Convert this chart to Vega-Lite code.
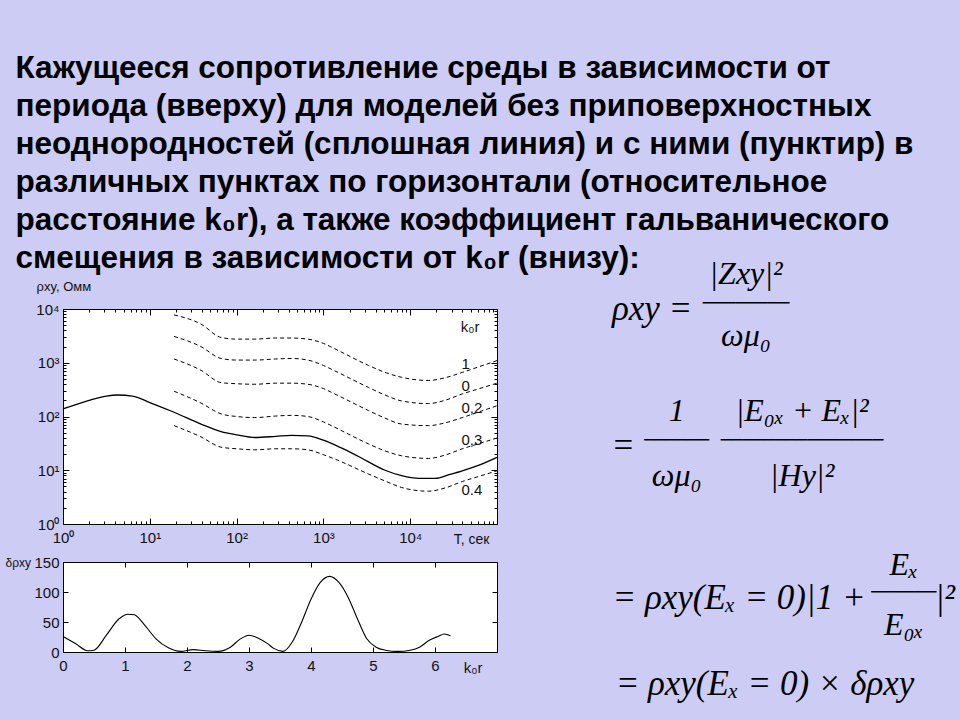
{
  "$schema": "https://vega.github.io/schema/vega-lite/v6.json",
  "background": "#ccccf5",
  "padding": {"left": 4, "top": 52, "right": 0, "bottom": 18},
  "title": {
    "text": [
      "Кажущееся сопротивление среды в зависимости от",
      "периода (вверху) для моделей без приповерхностных",
      "неоднородностей (сплошная линия) и с ними (пунктир) в",
      "различных пунктах по горизонтали (относительное",
      "расстояние k₀r), а также коэффициент гальванического",
      "смещения в зависимости от k₀r (внизу):"
    ],
    "anchor": "start",
    "font": "Liberation Sans",
    "fontSize": 31.5,
    "fontWeight": "bold",
    "lineHeight": 38,
    "color": "#000000",
    "dx": 11,
    "offset": -16
  },
  "datasets": {
    "homog": [
      {"T": 1, "rho": 138}, {"T": 2, "rho": 200}, {"T": 3.16, "rho": 240}, {"T": 4.27, "rho": 251},
      {"T": 6.31, "rho": 240}, {"T": 10, "rho": 182}, {"T": 19.05, "rho": 120}, {"T": 38.9, "rho": 72.4},
      {"T": 66.1, "rho": 52.5}, {"T": 100, "rho": 45.7}, {"T": 162, "rho": 40.7}, {"T": 282, "rho": 42.7},
      {"T": 427, "rho": 44.7}, {"T": 661, "rho": 43.7}, {"T": 1000, "rho": 36.3}, {"T": 1585, "rho": 26.3},
      {"T": 2512, "rho": 18.2}, {"T": 5129, "rho": 10}, {"T": 7943, "rho": 7.94}, {"T": 12589, "rho": 7.08},
      {"T": 19498, "rho": 7.08}, {"T": 28184, "rho": 8.32}, {"T": 39811, "rho": 9.77}, {"T": 63096, "rho": 12.6},
      {"T": 100000, "rho": 17.4}
    ],
    "inhomog": [
      {"k0r": "1", "T": 19.05, "rho": 7762}, {"k0r": "1", "T": 38.9, "rho": 5248}, {"k0r": "1", "T": 66.1, "rho": 2951},
      {"k0r": "1", "T": 100, "rho": 2754}, {"k0r": "1", "T": 162, "rho": 2754}, {"k0r": "1", "T": 282, "rho": 2884},
      {"k0r": "1", "T": 427, "rho": 2884}, {"k0r": "1", "T": 661, "rho": 2754}, {"k0r": "1", "T": 1000, "rho": 2291},
      {"k0r": "1", "T": 1349, "rho": 1820}, {"k0r": "1", "T": 3311, "rho": 891}, {"k0r": "1", "T": 5129, "rho": 661},
      {"k0r": "1", "T": 7943, "rho": 537}, {"k0r": "1", "T": 16218, "rho": 468}, {"k0r": "1", "T": 25119, "rho": 525},
      {"k0r": "1", "T": 39811, "rho": 661}, {"k0r": "1", "T": 63096, "rho": 851}, {"k0r": "1", "T": 100000, "rho": 1096},

      {"k0r": "0", "T": 19.05, "rho": 3090}, {"k0r": "0", "T": 38.9, "rho": 1995}, {"k0r": "0", "T": 66.1, "rho": 1202},
      {"k0r": "0", "T": 100, "rho": 1122}, {"k0r": "0", "T": 162, "rho": 1122}, {"k0r": "0", "T": 282, "rho": 1175},
      {"k0r": "0", "T": 427, "rho": 1202}, {"k0r": "0", "T": 661, "rho": 1122}, {"k0r": "0", "T": 1000, "rho": 891},
      {"k0r": "0", "T": 1349, "rho": 708}, {"k0r": "0", "T": 3311, "rho": 347}, {"k0r": "0", "T": 5129, "rho": 251},
      {"k0r": "0", "T": 7943, "rho": 195}, {"k0r": "0", "T": 16218, "rho": 174}, {"k0r": "0", "T": 25119, "rho": 200},
      {"k0r": "0", "T": 39811, "rho": 263}, {"k0r": "0", "T": 63096, "rho": 331}, {"k0r": "0", "T": 100000, "rho": 417},

      {"k0r": "0.2", "T": 19.05, "rho": 1175}, {"k0r": "0.2", "T": 38.9, "rho": 724}, {"k0r": "0.2", "T": 66.1, "rho": 427},
      {"k0r": "0.2", "T": 100, "rho": 407}, {"k0r": "0.2", "T": 162, "rho": 398}, {"k0r": "0.2", "T": 282, "rho": 417},
      {"k0r": "0.2", "T": 427, "rho": 417}, {"k0r": "0.2", "T": 661, "rho": 398}, {"k0r": "0.2", "T": 1000, "rho": 331},
      {"k0r": "0.2", "T": 1349, "rho": 263}, {"k0r": "0.2", "T": 3311, "rho": 129}, {"k0r": "0.2", "T": 5129, "rho": 93.3},
      {"k0r": "0.2", "T": 7943, "rho": 72.4}, {"k0r": "0.2", "T": 16218, "rho": 67.6}, {"k0r": "0.2", "T": 25119, "rho": 75.9},
      {"k0r": "0.2", "T": 39811, "rho": 95.5}, {"k0r": "0.2", "T": 63096, "rho": 123}, {"k0r": "0.2", "T": 100000, "rho": 158},

      {"k0r": "0.3", "T": 19.05, "rho": 295}, {"k0r": "0.3", "T": 38.9, "rho": 178}, {"k0r": "0.3", "T": 66.1, "rho": 112},
      {"k0r": "0.3", "T": 100, "rho": 100}, {"k0r": "0.3", "T": 162, "rho": 95.5}, {"k0r": "0.3", "T": 282, "rho": 102},
      {"k0r": "0.3", "T": 427, "rho": 105}, {"k0r": "0.3", "T": 661, "rho": 100}, {"k0r": "0.3", "T": 1000, "rho": 79.4},
      {"k0r": "0.3", "T": 1349, "rho": 63.1}, {"k0r": "0.3", "T": 3311, "rho": 30.9}, {"k0r": "0.3", "T": 5129, "rho": 22.9},
      {"k0r": "0.3", "T": 7943, "rho": 18.6}, {"k0r": "0.3", "T": 16218, "rho": 16.6}, {"k0r": "0.3", "T": 25119, "rho": 19.1},
      {"k0r": "0.3", "T": 39811, "rho": 25.1}, {"k0r": "0.3", "T": 63096, "rho": 31.6}, {"k0r": "0.3", "T": 100000, "rho": 39.8},

      {"k0r": "0.4", "T": 19.05, "rho": 67.6}, {"k0r": "0.4", "T": 38.9, "rho": 41.7}, {"k0r": "0.4", "T": 66.1, "rho": 26.9},
      {"k0r": "0.4", "T": 100, "rho": 25.1}, {"k0r": "0.4", "T": 162, "rho": 24.0}, {"k0r": "0.4", "T": 282, "rho": 25.1},
      {"k0r": "0.4", "T": 427, "rho": 25.1}, {"k0r": "0.4", "T": 661, "rho": 24.0}, {"k0r": "0.4", "T": 1000, "rho": 19.5},
      {"k0r": "0.4", "T": 1349, "rho": 16.2}, {"k0r": "0.4", "T": 3311, "rho": 8.51}, {"k0r": "0.4", "T": 5129, "rho": 6.31},
      {"k0r": "0.4", "T": 7943, "rho": 4.79}, {"k0r": "0.4", "T": 16218, "rho": 4.07}, {"k0r": "0.4", "T": 25119, "rho": 4.68},
      {"k0r": "0.4", "T": 39811, "rho": 6.17}, {"k0r": "0.4", "T": 63096, "rho": 7.76}, {"k0r": "0.4", "T": 100000, "rho": 9.77}
    ],
    "labels": [
      {"T": 48978, "rho": 4571, "label": "k₀r"},
      {"T": 43652, "rho": 955, "label": "1"},
      {"T": 43652, "rho": 372, "label": "0"},
      {"T": 51286, "rho": 141, "label": "0,2"},
      {"T": 51286, "rho": 36.3, "label": "0,3"},
      {"T": 51286, "rho": 4.27, "label": "0.4"}
    ],
    "delta": [
      {"k0r": 0, "d": 26}, {"k0r": 0.2, "d": 14}, {"k0r": 0.4, "d": 2}, {"k0r": 0.5, "d": 3},
      {"k0r": 0.7, "d": 28}, {"k0r": 0.9, "d": 55}, {"k0r": 1.05, "d": 63}, {"k0r": 1.15, "d": 62},
      {"k0r": 1.3, "d": 47}, {"k0r": 1.5, "d": 22}, {"k0r": 1.7, "d": 7}, {"k0r": 1.9, "d": 1},
      {"k0r": 2.1, "d": 4}, {"k0r": 2.3, "d": 2}, {"k0r": 2.5, "d": 1}, {"k0r": 2.7, "d": 8},
      {"k0r": 2.85, "d": 21}, {"k0r": 3.0, "d": 28}, {"k0r": 3.15, "d": 23}, {"k0r": 3.3, "d": 14},
      {"k0r": 3.4, "d": 6}, {"k0r": 3.55, "d": 1}, {"k0r": 3.7, "d": 17}, {"k0r": 3.85, "d": 50},
      {"k0r": 4.0, "d": 88}, {"k0r": 4.15, "d": 116}, {"k0r": 4.3, "d": 126}, {"k0r": 4.45, "d": 116},
      {"k0r": 4.6, "d": 91}, {"k0r": 4.75, "d": 55}, {"k0r": 4.9, "d": 22}, {"k0r": 5.05, "d": 8},
      {"k0r": 5.2, "d": 3}, {"k0r": 5.4, "d": 1}, {"k0r": 5.6, "d": 3}, {"k0r": 5.75, "d": 8},
      {"k0r": 5.9, "d": 19}, {"k0r": 6.05, "d": 26}, {"k0r": 6.15, "d": 30}, {"k0r": 6.25, "d": 27}
    ],
    "formula": [
      {"eq": "1", "slot": "lhs", "level": "mid", "text": "ρxy ="},
      {"eq": "1", "slot": "frac", "level": "bar", "text": "────────"},
      {"eq": "1", "slot": "frac", "level": "num", "text": "|Zxy|²"},
      {"eq": "1", "slot": "frac", "level": "den", "text": "ωμ₀"},
      {"eq": "2", "slot": "lhs", "level": "mid", "text": "="},
      {"eq": "2", "slot": "frac1", "level": "bar", "text": "──────"},
      {"eq": "2", "slot": "frac1", "level": "num", "text": "1"},
      {"eq": "2", "slot": "frac1", "level": "den", "text": "ωμ₀"},
      {"eq": "2", "slot": "frac2", "level": "bar", "text": "───────────────"},
      {"eq": "2", "slot": "frac2", "level": "num", "text": "|E₀ₓ + Eₓ|²"},
      {"eq": "2", "slot": "frac2", "level": "den", "text": "|Hy|²"},
      {"eq": "3", "slot": "lhs", "level": "mid", "text": "= ρxy(Eₓ = 0)|1 +"},
      {"eq": "3", "slot": "frac", "level": "bar", "text": "──────"},
      {"eq": "3", "slot": "frac", "level": "num", "text": "Eₓ"},
      {"eq": "3", "slot": "frac", "level": "den", "text": "E₀ₓ"},
      {"eq": "3", "slot": "tail", "level": "mid", "text": "|²"},
      {"eq": "4", "slot": "lhs", "level": "mid", "text": "= ρxy(Eₓ = 0) × δρxy"}
    ]
  },
  "config": {
    "view": {"stroke": "#000000", "strokeWidth": 1, "fill": "#ffffff"},
    "axis": {
      "domain": false,
      "grid": false,
      "labelFont": "Liberation Sans",
      "labelFontSize": 15,
      "labelColor": "#111111",
      "tickColor": "#000000",
      "titleFont": "Liberation Sans",
      "titleFontWeight": "normal",
      "titleFontSize": 13,
      "titleColor": "#111111",
      "labelFlush": false,
      "labelOverlap": false
    }
  },
  "spacing": 104,
  "hconcat": [
    {
      "spacing": 5,
      "vconcat": [
        {
          "width": 434,
          "height": 215,
          "layer": [
            {
              "data": {"name": "homog"},
              "mark": {"type": "line", "color": "#000000", "strokeWidth": 1.3, "interpolate": "monotone"},
              "encoding": {
                "x": {
                  "field": "T", "type": "quantitative",
                  "scale": {"type": "log", "domain": [1, 100000], "nice": false},
                  "axis": {
                    "values": [1,2,3,4,5,6,7,8,9,10,20,30,40,50,60,70,80,90,100,200,300,400,500,600,700,800,900,1000,2000,3000,4000,5000,6000,7000,8000,9000,10000,20000,30000,40000,50000,60000,70000,80000,90000,100000],
                    "labelExpr": "datum.value == 1 ? '10⁰' : datum.value == 10 ? '10¹' : datum.value == 100 ? '10²' : datum.value == 1000 ? '10³' : datum.value == 10000 ? '10⁴' : ''",
                    "tickSize": {"condition": {"test": "indexof([1,10,100,1000,10000,100000], datum.value) >= 0", "value": -6}, "value": -3},
                    "labelPadding": 12,
                    "title": "T, сек",
                    "titleAngle": 0,
                    "titleX": 426,
                    "titleY": 15,
                    "titleAlign": "right",
                    "titleBaseline": "middle",
                    "titleFontSize": 14
                  }
                },
                "y": {
                  "field": "rho", "type": "quantitative",
                  "scale": {"type": "log", "domain": [1, 10000], "nice": false},
                  "axis": {
                    "values": [1,2,3,4,5,6,7,8,9,10,20,30,40,50,60,70,80,90,100,200,300,400,500,600,700,800,900,1000,2000,3000,4000,5000,6000,7000,8000,9000,10000],
                    "labelExpr": "datum.value == 1 ? '10⁰' : datum.value == 10 ? '10¹' : datum.value == 100 ? '10²' : datum.value == 1000 ? '10³' : datum.value == 10000 ? '10⁴' : ''",
                    "tickSize": {"condition": {"test": "indexof([1,10,100,1000,10000], datum.value) >= 0", "value": -6}, "value": -3},
                    "labelPadding": 10,
                    "title": "ρxy, Омм",
                    "titleAngle": 0,
                    "titleX": -27,
                    "titleY": -23,
                    "titleAlign": "left",
                    "titleBaseline": "middle",
                    "titleFontSize": 13
                  }
                }
              }
            },
            {
              "data": {"name": "inhomog"},
              "mark": {"type": "line", "color": "#000000", "strokeWidth": 1, "strokeDash": [4, 3], "interpolate": "monotone"},
              "encoding": {
                "x": {"field": "T", "type": "quantitative", "axis": null},
                "y": {"field": "rho", "type": "quantitative", "axis": null},
                "detail": {"field": "k0r", "type": "nominal"}
              }
            },
            {
              "data": {"name": "labels"},
              "mark": {"type": "text", "font": "Liberation Sans", "fontSize": 15, "color": "#111111", "align": "center", "baseline": "middle"},
              "encoding": {
                "x": {
                  "field": "T", "type": "quantitative",
                  "axis": {
                    "orient": "top", "labels": false, "title": null,
                    "values": [1,2,3,4,5,6,7,8,9,10,20,30,40,50,60,70,80,90,100,200,300,400,500,600,700,800,900,1000,2000,3000,4000,5000,6000,7000,8000,9000,10000,20000,30000,40000,50000,60000,70000,80000,90000,100000],
                    "tickSize": {"condition": {"test": "indexof([1,10,100,1000,10000,100000], datum.value) >= 0", "value": -6}, "value": -3}
                  }
                },
                "y": {
                  "field": "rho", "type": "quantitative",
                  "axis": {
                    "orient": "right", "labels": false, "title": null,
                    "values": [1,2,3,4,5,6,7,8,9,10,20,30,40,50,60,70,80,90,100,200,300,400,500,600,700,800,900,1000,2000,3000,4000,5000,6000,7000,8000,9000,10000],
                    "tickSize": {"condition": {"test": "indexof([1,10,100,1000,10000], datum.value) >= 0", "value": -6}, "value": -3}
                  }
                },
                "text": {"field": "label", "type": "nominal"}
              }
            }
          ],
          "resolve": {"axis": {"x": "independent", "y": "independent"}}
        },
        {
          "width": 434,
          "height": 90,
          "data": {"name": "delta"},
          "layer": [
            {
              "mark": {"type": "line", "color": "#000000", "strokeWidth": 1.1, "interpolate": "monotone"},
              "encoding": {
                "x": {
                  "field": "k0r", "type": "quantitative",
                  "scale": {"domain": [0, 7], "nice": false, "zero": false},
                  "axis": {
                    "values": [0,1,2,3,4,5,6,7],
                    "labelExpr": "datum.value == 7 ? '' : datum.label",
                    "tickSize": -5,
                    "labelPadding": 11,
                    "title": "k₀r",
                    "titleAngle": 0,
                    "titleX": 419,
                    "titleY": 15,
                    "titleAlign": "right",
                    "titleBaseline": "middle",
                    "titleFontSize": 15,
                    "labelFontSize": 15
                  }
                },
                "y": {
                  "field": "d", "type": "quantitative",
                  "scale": {"domain": [0, 150], "nice": false},
                  "axis": {
                    "values": [0, 50, 100, 150],
                    "tickSize": -5,
                    "labelPadding": 9,
                    "title": "δρxy",
                    "titleAngle": 0,
                    "titleX": -58,
                    "titleY": 0,
                    "titleAlign": "left",
                    "titleBaseline": "middle",
                    "titleFontSize": 12,
                    "labelFontSize": 15
                  }
                }
              }
            },
            {
              "mark": {"type": "point", "opacity": 0},
              "encoding": {
                "x": {"field": "k0r", "type": "quantitative", "axis": {"orient": "top", "labels": false, "title": null, "values": [0,1,2,3,4,5,6,7], "tickSize": -5}},
                "y": {"field": "d", "type": "quantitative", "axis": {"orient": "right", "labels": false, "title": null, "values": [0, 50, 100, 150], "tickSize": -5}}
              }
            }
          ],
          "resolve": {"axis": {"x": "independent", "y": "independent"}}
        }
      ]
    },
    {
      "width": 360,
      "height": 380,
      "view": {"stroke": null, "fill": null},
      "data": {"name": "formula"},
      "encoding": {
        "y": {
          "field": "eq", "type": "ordinal", "axis": null,
          "scale": {
            "type": "point", "padding": 0,
            "domain": ["1","g1","g2","g3","g4","g5","g6","g7","g8","2","g9","g10","g11","g12","g13","g14","g15","g16","g17","3","g18","g19","g20","g21","g22","4"],
            "range": [-5, 375]
          }
        }
      },
      "layer": [
        {
          "transform": [{"filter": "datum.eq == '1'"}],
          "encoding": {"x": {"field": "slot", "type": "nominal", "axis": null, "scale": {"type": "point", "padding": 0, "domain": ["lhs", "frac"], "range": [47, 141]}}},
          "layer": [
            {"transform": [{"filter": "datum.level == 'mid'"}], "mark": {"type": "text", "font": "Liberation Serif", "fontStyle": "italic", "fontSize": 35, "baseline": "middle", "dy": 5}, "encoding": {"text": {"field": "text", "type": "nominal"}}},
            {"transform": [{"filter": "datum.level == 'bar'"}], "mark": {"type": "text", "font": "DejaVu Sans", "fontSize": 18, "baseline": "middle"}, "encoding": {"text": {"field": "text", "type": "nominal"}}},
            {"transform": [{"filter": "datum.level == 'num'"}], "mark": {"type": "text", "font": "Liberation Serif", "fontStyle": "italic", "fontSize": 32, "baseline": "middle", "dy": -30}, "encoding": {"text": {"field": "text", "type": "nominal"}}},
            {"transform": [{"filter": "datum.level == 'den'"}], "mark": {"type": "text", "font": "Liberation Serif", "fontStyle": "italic", "fontSize": 32, "baseline": "middle", "dy": 32}, "encoding": {"text": {"field": "text", "type": "nominal"}}}
          ]
        },
        {
          "transform": [{"filter": "datum.eq == '2'"}],
          "encoding": {"x": {"field": "slot", "type": "nominal", "axis": null, "scale": {"type": "point", "padding": 0, "domain": ["lhs","a1","a2","frac1","b1","b2","b3","b4","b5","b6","frac2"], "range": [18, 197]}}},
          "layer": [
            {"transform": [{"filter": "datum.level == 'mid'"}], "mark": {"type": "text", "font": "Liberation Serif", "fontStyle": "italic", "fontSize": 35, "baseline": "middle", "dy": 5}, "encoding": {"text": {"field": "text", "type": "nominal"}}},
            {"transform": [{"filter": "datum.level == 'bar'"}], "mark": {"type": "text", "font": "DejaVu Sans", "fontSize": 18, "baseline": "middle"}, "encoding": {"text": {"field": "text", "type": "nominal"}}},
            {"transform": [{"filter": "datum.level == 'num'"}], "mark": {"type": "text", "font": "Liberation Serif", "fontStyle": "italic", "fontSize": 32, "baseline": "middle", "dy": -30}, "encoding": {"text": {"field": "text", "type": "nominal"}}},
            {"transform": [{"filter": "datum.level == 'den'"}], "mark": {"type": "text", "font": "Liberation Serif", "fontStyle": "italic", "fontSize": 32, "baseline": "middle", "dy": 35}, "encoding": {"text": {"field": "text", "type": "nominal"}}}
          ]
        },
        {
          "transform": [{"filter": "datum.eq == '3'"}],
          "encoding": {"x": {"field": "slot", "type": "nominal", "axis": null, "scale": {"type": "point", "padding": 0, "domain": ["lhs","c1","c2","c3","frac","tail"], "range": [134, 340]}}},
          "layer": [
            {"transform": [{"filter": "datum.level == 'mid'"}], "mark": {"type": "text", "font": "Liberation Serif", "fontStyle": "italic", "fontSize": 35, "baseline": "middle", "dy": 5}, "encoding": {"text": {"field": "text", "type": "nominal"}}},
            {"transform": [{"filter": "datum.level == 'bar'"}], "mark": {"type": "text", "font": "DejaVu Sans", "fontSize": 18, "baseline": "middle"}, "encoding": {"text": {"field": "text", "type": "nominal"}}},
            {"transform": [{"filter": "datum.level == 'num'"}], "mark": {"type": "text", "font": "Liberation Serif", "fontStyle": "italic", "fontSize": 32, "baseline": "middle", "dy": -28}, "encoding": {"text": {"field": "text", "type": "nominal"}}},
            {"transform": [{"filter": "datum.level == 'den'"}], "mark": {"type": "text", "font": "Liberation Serif", "fontStyle": "italic", "fontSize": 32, "baseline": "middle", "dy": 32}, "encoding": {"text": {"field": "text", "type": "nominal"}}}
          ]
        },
        {
          "transform": [{"filter": "datum.eq == '4'"}],
          "mark": {"type": "text", "font": "Liberation Serif", "fontStyle": "italic", "fontSize": 35, "baseline": "middle"},
          "encoding": {
            "x": {"field": "slot", "type": "nominal", "axis": null, "scale": {"type": "point", "padding": 0, "domain": ["lhs"], "range": [160, 160]}},
            "text": {"field": "text", "type": "nominal"}
          }
        }
      ],
      "resolve": {"scale": {"x": "independent"}}
    }
  ]
}
